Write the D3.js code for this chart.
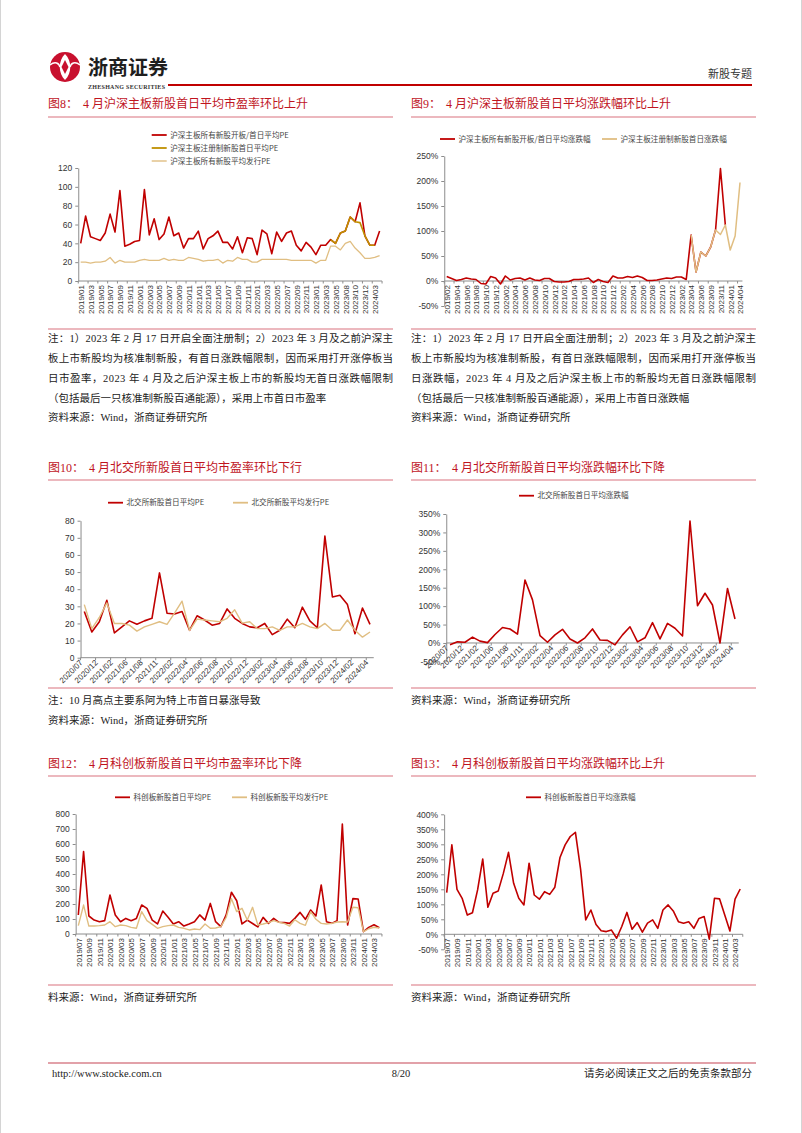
<!DOCTYPE html>
<html><head><meta charset="utf-8">
<script src="https://cdn.jsdelivr.net/npm/d3@7"></script>
<style>body{margin:0;background:#fff}svg{display:block}</style>
</head><body><svg id="page" width="802" height="1133"></svg>
<script>
// ---------------- DATA ----------------
// Fig 8: 沪深主板 PE
const cats8 = "2019/01 2019/02 2019/03 2019/04 2019/05 2019/06 2019/07 2019/08 2019/09 2019/10 2019/11 2019/12 2020/01 2020/02 2020/03 2020/04 2020/05 2020/06 2020/07 2020/08 2020/09 2020/10 2020/11 2020/12 2021/01 2021/02 2021/03 2021/04 2021/05 2021/06 2021/07 2021/08 2021/09 2021/10 2021/11 2021/12 2022/01 2022/02 2022/03 2022/04 2022/05 2022/06 2022/07 2022/08 2022/09 2022/10 2022/11 2022/12 2023/01 2023/02 2023/03 2023/04 2023/05 2023/07 2023/08 2023/09 2023/10 2023/11 2023/12 2024/01 2024/03 2024/04".split(" ");
const red8 = [40,69,47,45,43,51,71,52,96,37, 39,42,43,97,49,66,44,50,68,48, 51,35,45,45,53,34,45,48,53,41, 41,34,47,30,46,45,28,54,50,29, 52,42,51,53,38,32,41,36,28,38, 38,44,40,51,53,68,63,83,48,38, 38,53];
const gold8Start = "2023/04";
const gold8 = [44,40,51,53,68,63,62,48,38,38];
const tan8 = [20,20,19,20,20,21,25,19,22,20, 20,20,22,23,22,22,22,24,22,23, 22,22,25,24,23,21,22,22,23,19, 22,21,25,23,23,20,20,23,23,23, 23,23,23,22,22,22,22,22,19,22, 22,37,37,33,40,42,35,30,24,24, 25,27];

// Fig 9: 沪深主板 首日涨跌幅 (%)
const cats9 = "2019/02 2019/03 2019/04 2019/05 2019/06 2019/07 2019/08 2019/09 2019/10 2019/11 2019/12 2020/01 2020/02 2020/03 2020/04 2020/05 2020/06 2020/07 2020/08 2020/09 2020/10 2020/11 2020/12 2021/01 2021/02 2021/03 2021/04 2021/05 2021/06 2021/07 2021/08 2021/09 2021/10 2021/11 2021/12 2022/01 2022/02 2022/03 2022/04 2022/05 2022/06 2022/07 2022/08 2022/09 2022/10 2022/11 2022/12 2023/01 2023/02 2023/03 2023/04 2023/05 2023/06 2023/08 2023/09 2023/10 2023/11 2023/12 2024/01 2024/03 2024/04".split(" ");
const red9 = [9,5,1,3,6,4,3,-5,-6,9, 6,-6,10,2,5,6,2,6,2,1, 5,5,-1,-2,-2,-1,3,3,4,6, -3,3,-1,-3,10,6,6,9,7,10, 7,1,1,2,4,6,5,8,8,3, 92,18,58,50,68,102,225,112];
const tan9Start = "2023/04";
const tan9 = [92,18,58,50,68,102,93,112,62,90,197];

// Fig 10 / 11: 北交所
const cats10 = "2020/07 2020/11 2020/12 2021/01 2021/02 2021/05 2021/06 2021/07 2021/08 2021/09 2021/11 2021/12 2022/02 2022/03 2022/04 2022/05 2022/06 2022/07 2022/08 2022/09 2022/10 2022/11 2022/12 2023/01 2023/02 2023/03 2023/04 2023/05 2023/06 2023/07 2023/08 2023/09 2023/10 2023/11 2023/12 2024/01 2024/02 2024/03 2024/04".split(" ");
const red10 = [27,15,21,33.5,14.5,18,21.5,19.5,21.5,23, 49.5,26,25.5,27,16,24.5,22,19,20,28.5, 23,20,18,17.5,20,13.5,16,22.5,17.5,29.5, 21.5,17.5,71,35.5,36.5,31,14,29,19.5];
const tan10 = [31,17,23.5,32,20,20,19,15.5,18,19.5, 21,19.5,26,33,16,22.5,22,21.5,21,23, 28,20.2,21,17,17,18,16,18,18,20, 18,17,20,16,16,22,16,12,15];
const red11 = [-5,3,2,16,5,1,23,42,38,24, 171,117,20,2,22,37,11,0,14,38, 8,7,-5,22,44,3,14,55,11,53, 40,19,331,101,135,103,0,148,65];

// Fig 12 / 13: 科创板
const cats12 = "2019/07 2019/08 2019/09 2019/10 2019/11 2019/12 2020/01 2020/02 2020/03 2020/04 2020/05 2020/06 2020/07 2020/08 2020/09 2020/10 2020/11 2020/12 2021/01 2021/02 2021/03 2021/04 2021/05 2021/06 2021/07 2021/08 2021/09 2021/10 2021/11 2021/12 2022/01 2022/02 2022/03 2022/04 2022/05 2022/06 2022/07 2022/08 2022/09 2022/10 2022/11 2022/12 2023/01 2023/02 2023/03 2023/04 2023/05 2023/06 2023/07 2023/08 2023/09 2023/10 2023/11 2023/12 2024/01 2024/02 2024/03 2024/04".split(" ");
const red12 = [127,549,120,93,82,89,260,127,82,104, 89,104,193,171,93,67,153,111,67,82, 53,67,82,127,93,204,82,49,127,278, 222,67,93,70,47,111,71,104,78,76, 71,104,144,98,160,120,327,82,71,89, 733,60,236,233,16,44,62,42];
const tan12 = [56,193,53,53,56,60,82,49,60,56, 44,38,149,89,64,38,49,56,60,44, 38,27,33,29,67,38,40,49,110,235, 149,171,93,178,60,67,76,89,78,71, 53,95,71,58,149,98,71,67,71,80, 82,80,178,175,16,35,45,40];
const red13 = [139,298,150,120,64,72,148,251,90,137, 144,203,273,170,120,98,237,131,117,142, 133,157,256,298,326,340,217,48,81,33, 12,9,14,-13,26,73,17,39,7,37, 48,20,81,98,78,42,37,42,20,53, 59,-16,120,118,64,11,117,151];

const ticks8 = [0,20,40,60,80,100,120];
const ticks9 = [-50,0,50,100,150,200,250];
const ticks10 = [0,10,20,30,40,50,60,70,80];
const ticks11 = [-50,0,50,100,150,200,250,300,350];
const ticks12 = [0,100,200,300,400,500,600,700,800];
const ticks13 = [-50,0,50,100,150,200,250,300,350,400];

// ---------------- STYLE ----------------
const RED = "#C00000", GOLD = "#BF9000", TAN = "#E0BE82";
const TITLE_RED = "#C0141E", PINK = "#E6A0A8", AX = "#8c8c8c";
const FCJK = "'Noto Sans CJK SC','Noto Sans CJK JP',sans-serif";
const FTXT = "'Liberation Serif','Noto Sans CJK SC',serif";
const FTICK = "'Liberation Sans',Arial,sans-serif";

const svg = d3.select('#page');
svg.append('rect').attr('width',802).attr('height',1133).attr('fill','#fff');
svg.append('line').attr('x1',0.5).attr('x2',0.5).attr('y1',0).attr('y2',1133).attr('stroke','#d4d4d4');
svg.append('line').attr('x1',801.5).attr('x2',801.5).attr('y1',0).attr('y2',1133).attr('stroke','#d4d4d4');

// ---------------- HEADER ----------------
const logo = svg.append('g').attr('transform','translate(65,67)');
logo.append('circle').attr('r',15).attr('fill','#C8102E');
logo.append('path').attr('d','M0,-13 C7,-6 7,6 0,13 C-7,6 -7,-6 0,-13 Z').attr('fill','#fff');
logo.append('path').attr('d','M0,-7 L3.5,0 L0,7 L-3.5,0 Z').attr('fill','#C8102E');
logo.append('path').attr('d','M-15,-2 C-10,-6 -6,-4 -5,0 M15,-2 C10,-6 6,-4 5,0').attr('stroke','#fff').attr('stroke-width',1.5).attr('fill','none');
svg.append('text').attr('x',88).attr('y',75).text('浙商证券')
  .attr('font-family',FCJK).attr('font-weight',700).attr('font-size',20).attr('fill','#1e1e1e');
svg.append('text').attr('x',88).attr('y',89).text('ZHESHANG SECURITIES')
  .attr('font-family',FTXT).attr('font-weight',700).attr('font-size',6).attr('textLength',77).attr('fill','#333');
svg.append('line').attr('x1',168).attr('x2',752).attr('y1',85).attr('y2',85).attr('stroke',RED).attr('stroke-width',1.8);
svg.append('text').attr('x',752).attr('y',78).attr('text-anchor','end').text('新股专题')
  .attr('font-family',FCJK).attr('font-size',11).attr('fill','#333');

// ---------------- SECTION TITLES / RULES ----------------
function title(x, y, lab, rest){
  const t = svg.append('text').attr('y',y).attr('font-family',FTXT).attr('font-size',12).attr('fill',TITLE_RED);
  t.append('tspan').attr('x',x).text(lab);
  t.append('tspan').attr('x',x + (lab.length > 3 ? 41 : 35)).text(rest);
}
function rule(x1, x2, y){
  svg.append('line').attr('x1',x1).attr('x2',x2).attr('y1',y).attr('y2',y).attr('stroke',PINK).attr('stroke-width',1.5);
}
title(48,107.5,'图8：','4 月沪深主板新股首日平均市盈率环比上升');
title(411,107.5,'图9：','4 月沪深主板新股首日平均涨跌幅环比上升');
title(48,471.5,'图10：','4 月北交所新股首日平均市盈率环比下行');
title(411,471.5,'图11：','4 月北交所新股首日平均涨跌幅环比下降');
title(48,767.5,'图12：','4 月科创板新股首日平均市盈率环比下降');
title(411,767.5,'图13：','4 月科创板新股首日平均涨跌幅环比上升');
[117,329,480,688,776,985].forEach(y => { rule(48,393,y); rule(411,756,y); });

// ---------------- NOTES ----------------
function note(x, y, s, w){
  const t = svg.append('text').attr('x',x).attr('y',y).attr('dy','0.35em').text(s)
    .attr('font-family',FTXT).attr('font-size',10.5).attr('fill','#222');
  if (w) t.attr('textLength',w).attr('lengthAdjust','spacing');
}
const n1 = '注：1）2023 年 2 月 17 日开启全面注册制；2）2023 年 3 月及之前沪深主';
const n2 = '板上市新股均为核准制新股，有首日涨跌幅限制，因而采用打开涨停板当';
note(48,338,n1,345); note(48,358,n2,345);
note(48,378,'日市盈率，2023 年 4 月及之后沪深主板上市的新股均无首日涨跌幅限制',345);
note(48,398,'（包括最后一只核准制新股百通能源），采用上市首日市盈率');
note(48,417,'资料来源：Wind，浙商证券研究所');
note(411,338,n1,345); note(411,358,n2,345);
note(411,378,'日涨跌幅，2023 年 4 月及之后沪深主板上市的新股均无首日涨跌幅限制',345);
note(411,398,'（包括最后一只核准制新股百通能源），采用上市首日涨跌幅');
note(411,417,'资料来源：Wind，浙商证券研究所');
note(48,700,'注：10 月高点主要系阿为特上市首日暴涨导致');
note(48,720,'资料来源：Wind，浙商证券研究所');
note(411,700,'资料来源：Wind，浙商证券研究所');
note(48,997,'料来源：Wind，浙商证券研究所');
note(411,997,'资料来源：Wind，浙商证券研究所');

// footer
svg.append('line').attr('x1',48).attr('x2',756).attr('y1',1063).attr('y2',1063).attr('stroke','#D9828C').attr('stroke-width',1.5);
svg.append('text').attr('x',52).attr('y',1073).attr('dy','0.35em').text('http://www.stocke.com.cn')
  .attr('font-family',FTXT).attr('font-size',10.5).attr('fill','#222');
svg.append('text').attr('x',401).attr('y',1073).attr('dy','0.35em').attr('text-anchor','middle').text('8/20')
  .attr('font-family',FTXT).attr('font-size',10.5).attr('fill','#222');
svg.append('text').attr('x',752).attr('y',1073).attr('dy','0.35em').attr('text-anchor','end').text('请务必阅读正文之后的免责条款部分')
  .attr('font-family',FTXT).attr('font-size',10.5).attr('fill','#222');

// ---------------- CHARTS ----------------
function chart(o){
  const x = d3.scalePoint().domain(o.cats).range([o.x0,o.x1]);
  const step = x.step();
  const y = d3.scaleLinear().domain([o.ymin,o.ymax]).range([o.yb,o.yt]);
  const left = o.x0 - step/2, right = o.x1 + step/2, y0 = y(0);
  const g = svg.append('g');
  const ya = g.append('g').attr('transform',`translate(${left},0)`)
    .call(d3.axisLeft(y).tickValues(o.ticks).tickSize(3).tickSizeOuter(0).tickPadding(3).tickFormat(o.fmt));
  ya.select('.domain').attr('stroke',AX);
  ya.selectAll('.tick line').attr('stroke',AX);
  ya.selectAll('text').attr('font-family',FTICK).attr('font-size',8.5).attr('fill','#333');

  const xa = g.append('g').attr('transform',`translate(0,${y0})`)
    .call(d3.axisBottom(x).tickValues(o.cats.filter((c,i)=>i%2===0)).tickSize(0).tickSizeOuter(0));
  xa.select('.domain').remove();
  const tx = xa.selectAll('text').attr('font-family',FTICK).attr('font-size',8).attr('fill','#333')
    .attr('text-anchor','end').attr('y',0).attr('dy','0.35em');
  if (o.rot === -90) tx.attr('transform','rotate(-90)').attr('x',-4);
  else tx.attr('transform','rotate(-45)').attr('x',-5);
  g.append('line').attr('x1',left).attr('x2',right).attr('y1',y0).attr('y2',y0).attr('stroke',AX);
  g.selectAll(null).data(d3.range(0,o.cats.length+1,2)).join('line')
    .attr('x1',i=>left+i*step).attr('x2',i=>left+i*step).attr('y1',y0).attr('y2',y0+2.5).attr('stroke',AX);

  o.series.forEach(s => {
    const st = s.start ? o.cats.indexOf(s.start) : 0;
    const pts = s.values.map((v,i)=>({c:o.cats[st+i], v}));
    g.append('path').datum(pts)
      .attr('d', d3.line().x(d=>x(d.c)).y(d=>y(d.v)))
      .attr('fill','none').attr('stroke',s.color).attr('stroke-width',s.w)
      .attr('stroke-linejoin','round');
  });
  o.legend.forEach(l => {
    g.append('line').attr('x1',l.x).attr('x2',l.x+15).attr('y1',l.y).attr('y2',l.y)
      .attr('stroke',l.color).attr('stroke-width',l.w || 1.8);
    g.append('text').attr('x',l.x+18.5).attr('y',l.y).attr('dy','0.35em').text(l.label)
      .attr('font-family',FCJK).attr('font-size',7.6).attr('fill','#444');
  });
}
const pct = d => d + '%';

chart({cats:cats8, x0:80.7, x1:379.6, ymin:0, ymax:120, yb:281, yt:168, ticks:ticks8, fmt:d=>d, rot:-90,
  series:[{values:red8,color:RED,w:1.6},{values:gold8,start:gold8Start,color:GOLD,w:1.6},{values:tan8,color:TAN,w:1.3}],
  legend:[{x:151.7,y:135,color:RED,label:'沪深主板所有新股开板/首日平均PE'},
          {x:151.7,y:148,color:GOLD,label:'沪深主板注册制新股首日平均PE'},
          {x:151.7,y:161,color:TAN,w:1.4,label:'沪深主板所有新股平均发行PE'}]});

chart({cats:cats9, x0:446.7, x1:740, ymin:-50, ymax:250, yb:306, yt:156, ticks:ticks9, fmt:pct, rot:-90,
  series:[{values:red9,color:RED,w:1.6},{values:tan9,start:tan9Start,color:TAN,w:1.5}],
  legend:[{x:440,y:139,color:RED,label:'沪深主板所有新股开板/首日平均涨跌幅'},
          {x:602,y:139,color:TAN,label:'沪深主板注册制新股首日涨跌幅'}]});

chart({cats:cats10, x0:84.3, x1:370, ymin:0, ymax:80, yb:657.7, yt:520.7, ticks:ticks10, fmt:d=>d, rot:-45,
  series:[{values:red10,color:RED,w:1.6},{values:tan10,color:TAN,w:1.4}],
  legend:[{x:108,y:502.7,color:RED,label:'北交所新股首日平均PE'},
          {x:233,y:502.7,color:TAN,label:'北交所新股平均发行PE'}]});

chart({cats:cats10, x0:450, x1:735, ymin:-50, ymax:350, yb:661.4, yt:514, ticks:ticks11, fmt:pct, rot:-45,
  series:[{values:red11,color:RED,w:1.6}],
  legend:[{x:519,y:495.7,color:RED,label:'北交所新股首日平均涨跌幅'}]});

chart({cats:cats12, x0:78.3, x1:379.3, ymin:0, ymax:800, yb:934, yt:814, ticks:ticks12, fmt:d=>d, rot:-90,
  series:[{values:red12,color:RED,w:1.6},{values:tan12,color:TAN,w:1.4}],
  legend:[{x:115,y:797.3,color:RED,label:'科创板新股首日平均PE'},
          {x:232,y:797.3,color:TAN,label:'科创板新股平均发行PE'}]});

chart({cats:cats12, x0:446.7, x1:740.2, ymin:-50, ymax:400, yb:949.3, yt:814.3, ticks:ticks13, fmt:pct, rot:-90,
  series:[{values:red13,color:RED,w:1.6}],
  legend:[{x:526,y:797.3,color:RED,label:'科创板新股首日平均涨跌幅'}]});
</script></body></html>
